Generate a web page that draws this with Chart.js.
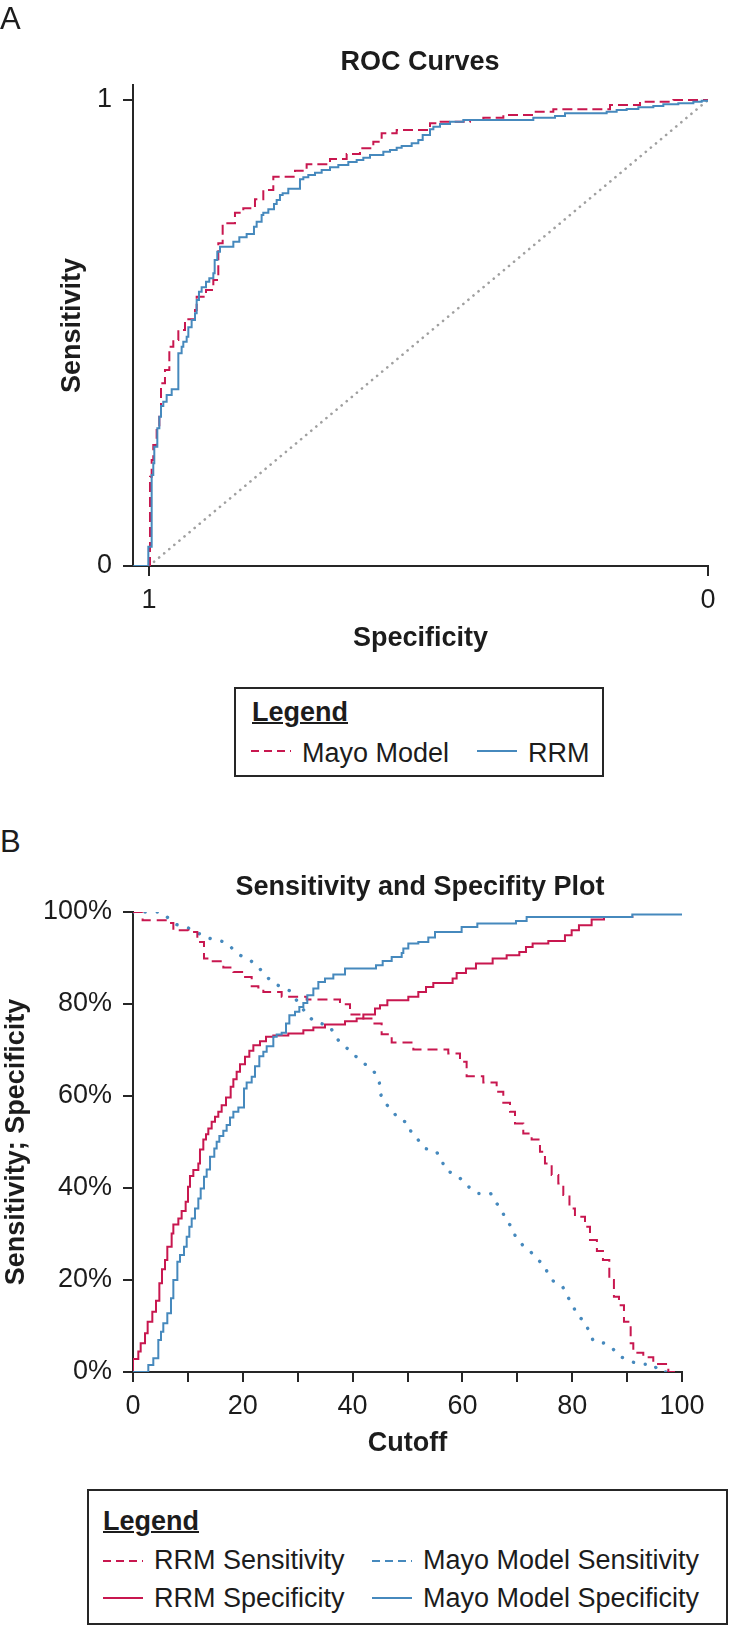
<!DOCTYPE html>
<html>
<head>
<meta charset="utf-8">
<script src="https://cdn.jsdelivr.net/npm/chart.js@4.4.1/dist/chart.umd.min.js"></script>
<style>
  body { margin:0; width:729px; height:1631px; background:#fff; position:relative; overflow:hidden;
         font-family:"Liberation Sans", Arial, sans-serif; color:#1c1c1c; }
  .abs { position:absolute; white-space:nowrap; }
  .panel { font-size:31px; line-height:36px; left:0; }
  .title { font-size:27px; font-weight:bold; line-height:32px; width:600px; text-align:center; }
  .box { position:absolute; border:2px solid #262626; box-sizing:border-box; }
  .lg { font-size:27px; line-height:32px; }
  .lgh { font-weight:bold; text-decoration:underline; text-decoration-thickness:2px; }
  canvas { position:absolute; left:0; }
  svg { position:absolute; overflow:visible; }
</style>
</head>
<body>
<canvas id="rocChart" width="729" height="680" style="top:0"></canvas>
<canvas id="cutChart" width="729" height="590" style="top:880px"></canvas>

<div class="abs panel" style="top:1px">A</div>
<div class="abs title" style="left:120px; top:45px">ROC Curves</div>
<div class="box" style="left:234px; top:687px; width:370px; height:90px"></div>
<div class="abs lg lgh" style="left:252px; top:696px">Legend</div>

<div class="abs panel" style="top:824px">B</div>
<div class="abs title" style="left:120px; top:870px">Sensitivity and Specifity Plot</div>
<div class="box" style="left:87px; top:1489px; width:641px; height:136px"></div>
<div class="abs lg lgh" style="left:103px; top:1505px">Legend</div>

<div id="legends"></div>

<script>
// ---- panel A: ROC curves (specificity, sensitivity) ----
const rocTicks = [1, 0];

const mayoRocSpec = [1.0, 0.9982, 0.9952, 0.9923, 0.9863, 0.9815, 0.9785, 0.9714, 0.9636, 0.9565, 0.9475,
  0.9356, 0.9177, 0.9147, 0.8980, 0.8849, 0.8760, 0.8682, 0.8462, 0.8313, 0.8104, 0.7955, 0.7776, 0.7388,
  0.7180, 0.6762, 0.6464, 0.6226, 0.5987, 0.5838, 0.5569, 0.4973, 0.4824, 0.4258, 0.4019, 0.3661, 0.3125,
  0.2767, 0.1753, 0.1216, 0.0620, 0.0];
const mayoRocSens = [0, 0.1917, 0.2275, 0.2597, 0.2919, 0.3205, 0.3920, 0.4206, 0.4707, 0.4850, 0.5064,
  0.5293, 0.5494, 0.5780, 0.5923, 0.6137, 0.6924, 0.7353, 0.7582, 0.7675, 0.7868, 0.8069, 0.8355, 0.8483,
  0.8619, 0.8734, 0.8841, 0.8963, 0.9106, 0.9285, 0.9356, 0.9499, 0.9535, 0.9571, 0.9620, 0.9678, 0.9749,
  0.9799, 0.9893, 0.9964, 1.0, 1.0];

const rrmRocSpec = [1.028, 1.0012, 0.9952, 0.9923, 0.9905, 0.9851, 0.9815, 0.9785, 0.9744, 0.9684, 0.9594,
  0.9475, 0.9416, 0.9386, 0.9326, 0.9296, 0.9237, 0.9177, 0.9147, 0.9106, 0.9058, 0.8980, 0.8921, 0.8849,
  0.8825, 0.8778, 0.8730, 0.8491, 0.8384, 0.8253, 0.8122, 0.8074, 0.7985, 0.7955, 0.7865, 0.7764, 0.7716,
  0.7657, 0.7609, 0.7508, 0.7299, 0.7239, 0.7150, 0.7030, 0.6911, 0.6762, 0.6613, 0.6434, 0.6285, 0.6166,
  0.6046, 0.5808, 0.5689, 0.5569, 0.5480, 0.5301, 0.5182, 0.5104, 0.4973, 0.4913, 0.4794, 0.4615, 0.4377,
  0.3125, 0.2737, 0.2558, 0.1813, 0.1634, 0.1455, 0.1246, 0.0978, 0.0799, 0.0531, 0.0262, 0.0113, 0.0];
const rrmRocSens = [0, 0.0415, 0.1953, 0.2203, 0.2561, 0.2954, 0.3205, 0.3434, 0.3526, 0.3670, 0.3791,
  0.4564, 0.4707, 0.4814, 0.4922, 0.5122, 0.5279, 0.5422, 0.5708, 0.5887, 0.5980, 0.6102, 0.6173, 0.6281,
  0.6567, 0.6745, 0.6853, 0.6960, 0.7053, 0.7125, 0.7282, 0.7389, 0.7532, 0.7582, 0.7654, 0.7768, 0.7854,
  0.7961, 0.7997, 0.8097, 0.8298, 0.8340, 0.8391, 0.8441, 0.8498, 0.8555, 0.8605, 0.8670, 0.8713, 0.8763,
  0.8820, 0.8891, 0.8927, 0.8977, 0.9013, 0.9070, 0.9142, 0.9249, 0.9370, 0.9428, 0.9485, 0.9535, 0.9571,
  0.9620, 0.9656, 0.9714, 0.9749, 0.9785, 0.9807, 0.9843, 0.9871, 0.9907, 0.9929, 0.9964, 0.9986, 1.0];

const chanceSpec = [1, 0];
const chanceSens = [0, 1];

// ---- panel B: sensitivity / specificity by cutoff (%) ----
const cutTicksLabelled = [0, 20, 40, 60, 80, 100];

const rrmSensCut = [0, 1.75, 6.44, 7.35, 10.08, 11.72, 12.93, 14.03, 16.45, 18.28, 20.10, 21.62, 22.83,
  23.74, 27.08, 31.63, 37.70, 39.53, 41.96, 43.78, 45.29, 47.12, 51.06, 57.43, 59.56, 60.77, 63.81, 66.24,
  67.45, 68.67, 69.58, 71.09, 72.61, 74.13, 75.04, 76.26, 77.47, 78.38, 79.5, 80.5, 82.33, 83.24, 84.5,
  85.6, 86.76, 87.6, 88.52, 89.43, 90.65, 91.13, 92.95, 94.77, 97.51, 99.63];
const rrmSensVal = [100, 98.2, 97.62, 96.03, 95.67, 93.49, 89.87, 89.29, 87.92, 86.98, 85.89, 83.86, 83.57,
  82.63, 81.55, 80.97, 79.95, 77.71, 76.84, 75.75, 73.44, 71.63, 70.11, 69.24, 67.43, 64.31, 62.94, 60.91,
  58.52, 56.56, 54.03, 51.86, 50.55, 47.87, 45.34, 42.81, 40.99, 38.46, 35.57, 33.76, 31.58, 28.69, 26.3,
  24.34, 20.0, 16.37, 14.49, 10.95, 6.24, 4.21, 3.19, 1.75, 0, 0];

const rrmSpecCut = [0, 0, 0.97, 1.40, 2.19, 2.67, 3.52, 4.19, 4.80, 5.28, 5.83, 6.25, 7.04, 7.35, 8.26, 8.86,
  9.59, 10.02, 10.38, 10.99, 11.90, 12.20, 12.81, 13.30, 13.72, 14.33, 14.94, 15.54, 16.15, 16.94, 17.79,
  18.28, 18.88, 19.49, 20.40, 21.19, 21.92, 23.13, 24.23, 25.56, 28.29, 31.03, 32.85, 34.97, 38.62, 40.74,
  41.96, 44.08, 44.99, 46.33, 50.15, 51.97, 53.37, 54.70, 58.22, 58.95, 60.65, 62.47, 65.51, 68.06, 70.37,
  71.58, 72.79, 75.65, 78.68, 79.90, 81.23, 83.54, 85.79, 90.95];
const rrmSpecVal = [0, 2.8, 4.43, 6.24, 8.41, 10.95, 13.12, 15.51, 19.27, 22.31, 24.34, 27.24, 30.13, 32.09,
  33.39, 34.99, 37.01, 40.27, 42.59, 43.89, 45.34, 48.38, 50.55, 51.71, 52.94, 54.39, 55.48, 56.56, 58.01,
  59.68, 61.99, 63.66, 65.25, 66.92, 68.51, 69.82, 71.05, 71.92, 72.86, 73.15, 73.58, 74.31, 74.88, 75.54,
  76.26, 76.84, 77.71, 79.01, 79.74, 80.82, 81.55, 82.63, 83.72, 84.59, 85.53, 86.76, 87.70, 88.79, 89.87,
  90.60, 91.32, 92.41, 93.13, 93.71, 94.94, 96.03, 97.12, 98.35, 98.93, 99.21];

const mayoSensCut = [0, 2.61, 5.10, 6.56, 7.95, 9.90, 11.60, 13.11, 15.24, 17.06, 18.40, 19.79, 21.49, 22.89,
  24.16, 25.26, 26.96, 28.60, 29.69, 30.72, 31.75, 33.15, 35.76, 37.40, 40.01, 41.35, 42.74, 44.08, 44.87,
  45.17, 46.02, 47.24, 48.33, 50.03, 50.76, 51.97, 53.18, 55.19, 56.22, 56.83, 58.53, 60.04, 61.26, 62.72,
  65.14, 66.12, 67.15, 67.94, 69.09, 69.76, 70.97, 72.31, 73.52, 74.86, 75.65, 76.74, 78.32, 79.17, 80.14,
  80.87, 82.33, 83.06, 83.85, 85.97, 87.49, 88.58, 90.34, 92.16, 94.77, 95.87, 98.30];
const mayoSensVal = [100, 100, 100, 98.56, 97.26, 96.61, 95.67, 94.44, 94.0, 93.28, 91.68, 90.38, 89.37, 87.92,
  86.25, 84.80, 83.72, 82.85, 80.97, 79.37, 77.49, 76.12, 75.25, 72.13, 69.24, 67.79, 66.48, 65.04, 62.94,
  60.19, 58.37, 56.78, 55.04, 54.17, 51.86, 50.41, 48.60, 48.02, 46.21, 44.04, 42.95, 41.72, 40.13, 38.82,
  38.82, 36.87, 35.20, 33.03, 31.37, 29.12, 27.60, 26.30, 24.63, 23.25, 21.23, 19.49, 18.40, 16.37, 14.49,
  12.32, 10.95, 8.77, 6.75, 6.24, 4.93, 3.48, 2.47, 1.68, 1.68, 0, 0];

const mayoSpecCut = [0, 2.79, 3.70, 4.61, 5.10, 5.52, 6.25, 6.92, 7.35, 8.08, 8.56, 9.29, 9.78, 10.26, 10.69,
  11.29, 11.90, 12.33, 12.93, 13.42, 14.03, 14.81, 15.24, 15.73, 16.45, 17.06, 17.67, 18.28, 19.19, 20.22,
  20.70, 21.62, 22.22, 23.01, 23.74, 24.35, 25.56, 26.17, 27.08, 27.87, 28.48, 29.51, 30.30, 31.03, 31.75,
  32.85, 33.76, 34.97, 36.49, 38.62, 44.26, 45.48, 47.12, 48.94, 49.24, 50.15, 51.97, 53.79, 55.01, 59.86,
  62.72, 69.76, 71.70, 90.95, 100];
const mayoSpecVal = [0, 1.53, 2.98, 6.96, 8.77, 10.58, 12.76, 16.01, 20.0, 23.98, 25.43, 27.24, 29.41, 31.58,
  33.39, 35.57, 37.74, 39.91, 42.45, 44.04, 46.79, 48.60, 50.05, 51.28, 52.44, 53.67, 55.33, 56.56, 57.51,
  61.63, 62.94, 64.17, 66.48, 68.66, 69.60, 70.83, 72.86, 73.36, 73.73, 75.75, 77.56, 78.29, 79.37, 80.24,
  81.91, 83.36, 84.80, 85.53, 86.40, 87.70, 88.42, 89.37, 90.24, 91.10, 92.05, 93.13, 93.49, 94.44, 95.67,
  96.75, 97.48, 98.06, 98.93, 99.43, 99.43];

const RED = '#c8174f';
const BLUE = '#4689bd';
const AXIS = '#262626';
const TXT = '#1c1c1c';

Chart.defaults.font.family = '"Liberation Sans", Arial, sans-serif';
Chart.defaults.color = TXT;

function pts(xs, ys) {
  return xs.map((x, i) => ({ x: x, y: ys[i] }));
}

function axisStyle() {
  return {
    grid: { display: true, drawOnChartArea: false, drawTicks: true, tickLength: 10, color: AXIS, lineWidth: 2 },
    border: { display: true, color: AXIS, width: 2 }
  };
}

new Chart(document.getElementById('rocChart'), {
  type: 'line',
  data: {
    datasets: [
      { label: 'RRM', data: pts(rrmRocSpec, rrmRocSens), borderColor: BLUE, borderWidth: 2,
        stepped: 'before', pointRadius: 0 },
      { label: 'Mayo Model', data: pts(mayoRocSpec, mayoRocSens), borderColor: RED, borderWidth: 2,
        borderDash: [10, 5], stepped: 'before', pointRadius: 0 },
      { label: 'chance', data: pts(chanceSpec, chanceSens), borderColor: '#a0a0a0', borderWidth: 2.6,
        borderDash: [0.1, 6.5], borderCapStyle: 'round', pointRadius: 0 }
    ]
  },
  options: {
    responsive: false,
    animation: false,
    layout: { padding: { top: 85, right: 21, bottom: 0, left: 0 } },
    plugins: { legend: { display: false }, tooltip: { enabled: false } },
    scales: {
      x: Object.assign(axisStyle(), {
        type: 'linear', reverse: true, min: 0, max: 1.0286,
        afterBuildTicks: s => { s.ticks = rocTicks.map(v => ({ value: v })); },
        afterFit: s => { s.height = 114; },
        ticks: { padding: 8, font: { size: 27 }, color: TXT, maxRotation: 0 },
        title: { display: true, text: 'Specificity', color: TXT,
                 font: { size: 27, weight: 'bold' }, padding: { top: 0, bottom: 24.8 } }
      }),
      y: Object.assign(axisStyle(), {
        type: 'linear', min: 0, max: 1.0322,
        afterBuildTicks: s => { s.ticks = [0, 1].map(v => ({ value: v })); },
        afterFit: s => { s.width = 133; },
        ticks: { padding: 11, font: { size: 27 }, color: TXT },
        title: { display: true, text: 'Sensitivity', color: TXT,
                 font: { size: 27, weight: 'bold' }, padding: { top: 56.8, bottom: 0 } }
      })
    }
  }
});

new Chart(document.getElementById('cutChart'), {
  type: 'line',
  data: {
    datasets: [
      { label: 'Mayo Model Specificity', data: pts(mayoSpecCut, mayoSpecVal), borderColor: BLUE,
        borderWidth: 2, stepped: 'before', pointRadius: 0 },
      { label: 'RRM Specificity', data: pts(rrmSpecCut, rrmSpecVal), borderColor: RED,
        borderWidth: 2, stepped: 'before', pointRadius: 0 },
      { label: 'RRM Sensitivity', data: pts(rrmSensCut, rrmSensVal), borderColor: RED,
        borderWidth: 2, borderDash: [10, 6], stepped: 'before', pointRadius: 0 },
      { label: 'Mayo Model Sensitivity', data: pts(mayoSensCut, mayoSensVal), borderColor: BLUE,
        borderWidth: 3.4, borderDash: [0.1, 12], borderCapStyle: 'round', pointRadius: 0 }
    ]
  },
  options: {
    responsive: false,
    animation: false,
    layout: { padding: { top: 32, right: 47, bottom: 0, left: 0 } },
    plugins: { legend: { display: false }, tooltip: { enabled: false } },
    scales: {
      x: Object.assign(axisStyle(), {
        type: 'linear', min: 0, max: 100,
        afterFit: s => { s.height = 98; },
        ticks: { stepSize: 10, autoSkip: false, maxRotation: 0, padding: 8, font: { size: 27 }, color: TXT,
                 callback: v => cutTicksLabelled.includes(v) ? String(v) : '' },
        title: { display: true, text: 'Cutoff', color: TXT,
                 font: { size: 27, weight: 'bold' }, padding: { top: 0, bottom: 9.8 } }
      }),
      y: Object.assign(axisStyle(), {
        type: 'linear', min: 0, max: 100,
        afterFit: s => { s.width = 133; },
        ticks: { stepSize: 20, padding: 11, font: { size: 27 }, color: TXT, callback: v => v + '%' },
        title: { display: true, text: 'Sensitivity; Specificity', color: TXT,
                 font: { size: 27, weight: 'bold' }, padding: { top: 0, bottom: 0 } }
      })
    }
  }
});

// legend entries: [x of sample, y of sample line, top of text, label, colour, dash]
const legendItems = [
  [251, 751, 737, 'Mayo Model', RED, '8 5'],
  [477, 751, 737, 'RRM', BLUE, ''],
  [103, 1561, 1544, 'RRM Sensitivity', RED, '8 5'],
  [372, 1561, 1544, 'Mayo Model Sensitivity', BLUE, '8 5'],
  [103, 1598, 1582, 'RRM Specificity', RED, ''],
  [372, 1598, 1582, 'Mayo Model Specificity', BLUE, '']
];
let html = '';
legendItems.forEach(([x, ly, ty, label, color, dash]) => {
  html += `<svg style="left:${x}px;top:${ly - 2}px" width="40" height="4">` +
          `<line x1="0" y1="2" x2="40" y2="2" stroke="${color}" stroke-width="2"` +
          (dash ? ` stroke-dasharray="${dash}"` : '') + `/></svg>`;
  html += `<div class="abs lg" style="left:${x + 51}px;top:${ty}px">${label}</div>`;
});
document.getElementById('legends').innerHTML = html;
</script>
</body>
</html>
